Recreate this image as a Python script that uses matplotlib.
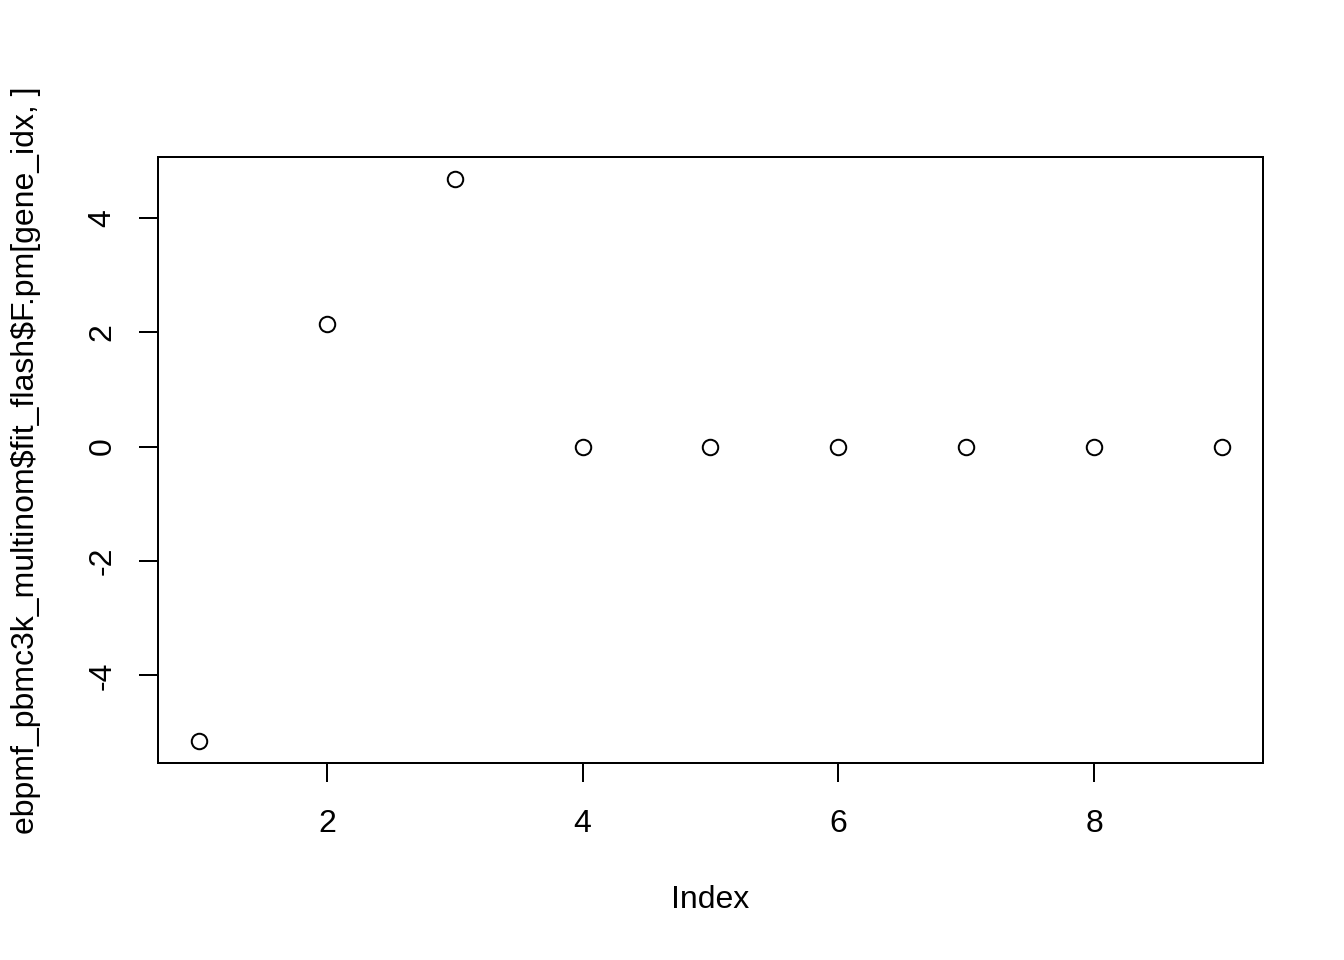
import numpy as np
import matplotlib.pyplot as plt

# values
index = [1, 2, 3, 4, 5, 6, 7, 8, 9]
f_pm = [-5.14, 2.15, 4.67, 0.0, 0.0, 0.0, 0.0, 0.0, 0.0]
x_ticks = [2, 4, 6, 8]
y_ticks = [-4, -2, 0, 2, 4]

plt.rcParams['font.family'] = ['Liberation Sans', 'DejaVu Sans']
plt.rcParams['font.size'] = 12

fig = plt.figure(figsize=(7, 5), dpi=192)
ax = fig.add_axes([158 / 1344, 1 - 763 / 960, (1263 - 158) / 1344, (763 - 157) / 960])

ax.plot(index, f_pm, linestyle='none', marker='o', markersize=5.8,
        markerfacecolor='none', markeredgecolor='black', markeredgewidth=0.75)
ax.margins(0.04)

ax.set_xticks(x_ticks)
ax.set_yticks(y_ticks)
ax.set_yticklabels([str(v) for v in y_ticks], rotation=90, va='center')
ax.tick_params(direction='out', length=7.2, width=0.75)
ax.tick_params(axis='x', pad=10)
ax.tick_params(axis='y', pad=8)
for s in ax.spines.values():
    s.set_linewidth(0.75)

fig.text(710 / 1344, 1 - 900 / 960, 'Index', ha='center', va='center')
fig.text(26 / 1344, 1 - 460 / 960, 'ebpmf_pbmc3k_multinom$fit_flash$F.pm[gene_idx, ]',
         rotation=90, ha='center', va='center', parse_math=False)

fig.savefig('out.png', dpi=192)
